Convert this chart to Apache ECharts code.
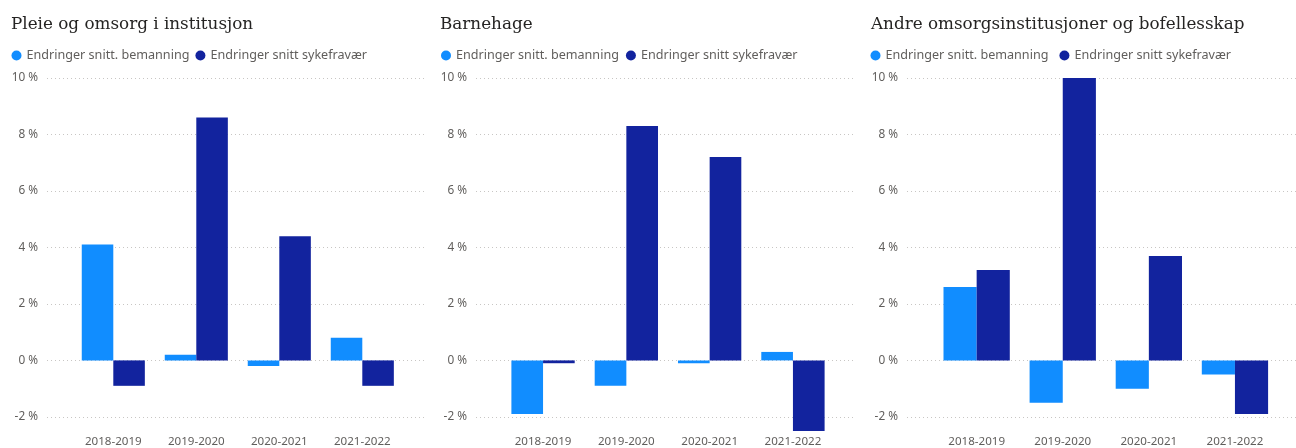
<!DOCTYPE html>
<html>
<head>
<meta charset="utf-8">
<script src="https://cdn.jsdelivr.net/npm/echarts@6/dist/echarts.min.js"></script>
<style>
html,body{margin:0;padding:0;background:#fff;}
#c{width:1296px;height:448px;}
</style>
</head>
<body>
<div id="c"></div>
<script>
const categories = ['2018-2019', '2019-2020', '2020-2021', '2021-2022'];
const panelTitles = ['Pleie og omsorg i institusjon', 'Barnehage', 'Andre omsorgsinstitusjoner og bofellesskap'];
const seriesNames = ['Endringer snitt. bemanning', 'Endringer snitt sykefravær'];
const yTicks = [-2, 0, 2, 4, 6, 8, 10];

const pleieBemanning = [4.1, 0.2, -0.2, 0.8];
const pleieSykefravaer = [-0.9, 8.6, 4.4, -0.9];
const barnehageBemanning = [-1.9, -0.9, -0.1, 0.3];
const barnehageSykefravaer = [-0.1, 8.3, 7.2, -2.5];
const andreBemanning = [2.6, -1.5, -1.0, -0.5];
const andreSykefravaer = [3.2, 10.0, 3.7, -1.9];

const panelData = [
  [pleieBemanning, pleieSykefravaer],
  [barnehageBemanning, barnehageSykefravaer],
  [andreBemanning, andreSykefravaer]
];

const colors = ['#118DFF', '#12239E'];
const labelColor = '#605E5C';
const sans = '"Noto Sans", "Open Sans", sans-serif';

// layout per panel
const layout = [
  { titleX: 11,  legendX: 11.5, legendGap: 6,  bgLeft: 47,  bgWidth: 378, barLeft: 71.8,  barWidth: 332,   gap: '24%' },
  { titleX: 440, legendX: 441,  legendGap: 7,  bgLeft: 476, bgWidth: 377, barLeft: 501.4, barWidth: 333.2, gap: '24%' },
  { titleX: 871, legendX: 870.5, legendGap: 11, bgLeft: 907, bgWidth: 389, barLeft: 933.6, barWidth: 344.4, gap: '23%' }
];

const unitPx = 28.26;
const plotTop = 78;

const grid = [], xAxis = [], yAxis = [], series = [], title = [], legend = [];

layout.forEach((L, p) => {
  title.push({
    text: panelTitles[p], left: L.titleX, top: 16, padding: 0,
    textStyle: { fontFamily: '"DejaVu Serif", serif', fontSize: 16.8, fontWeight: 'normal', color: '#252423' }
  });
  legend.push({
    data: seriesNames, left: L.legendX, top: 49, padding: 0, icon: 'circle',
    itemWidth: 10, itemHeight: 10, itemGap: L.legendGap, selectedMode: false,
    textStyle: { fontFamily: sans, fontSize: 12.6, color: labelColor }
  });
  // background grid: y ticks + gridlines
  grid.push({ left: L.bgLeft, width: L.bgWidth, top: plotTop, height: 12 * unitPx, containLabel: false });
  xAxis.push({ gridIndex: 2 * p, type: 'value', show: false, min: 0, max: 1 });
  yAxis.push({
    gridIndex: 2 * p, type: 'value', min: yTicks[0], max: yTicks[yTicks.length - 1], interval: 2,
    axisLine: { show: false }, axisTick: { show: false },
    axisLabel: { formatter: '{value} %', color: labelColor, fontFamily: sans, fontSize: 11.8, margin: 9 },
    splitLine: { show: true, lineStyle: { color: '#C8C6C4', type: [1, 3], width: 1 } }
  });
  // bars grid
  grid.push({ left: L.barLeft, width: L.barWidth, top: plotTop, height: 12.5 * unitPx, containLabel: false });
  xAxis.push({
    gridIndex: 2 * p + 1, type: 'category', data: categories,
    axisLine: { show: false }, axisTick: { show: false },
    axisLabel: { color: labelColor, fontFamily: sans, fontSize: 11.6, margin: 5 }
  });
  yAxis.push({ gridIndex: 2 * p + 1, type: 'value', min: -2.5, max: 10, show: false, splitLine: { show: false } });

  panelData[p].forEach((vals, s) => {
    series.push({
      name: seriesNames[s], type: 'bar', xAxisIndex: 2 * p + 1, yAxisIndex: 2 * p + 1,
      data: vals, barGap: '0%', barCategoryGap: L.gap,
      itemStyle: { color: colors[s] }, emphasis: { disabled: true }
    });
  });
});

const chart = echarts.init(document.getElementById('c'), null, { renderer: 'canvas' });
chart.setOption({
  animation: false,
  color: colors,
  title, legend, grid, xAxis, yAxis, series
});
</script>
</body>
</html>
